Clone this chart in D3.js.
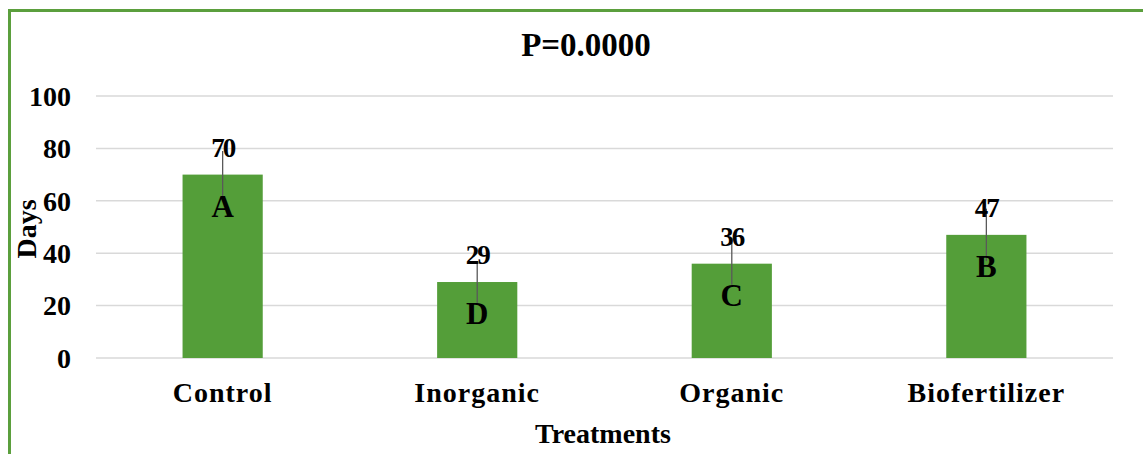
<!DOCTYPE html>
<html>
<head>
<meta charset="utf-8">
<script src="https://cdn.jsdelivr.net/npm/d3@7"></script>
<style>
  body { margin: 0; background: #fff; }
  text { font-family: "Liberation Serif", "Times New Roman", serif; font-weight: bold; fill: #000; }
</style>
</head>
<body>
<svg id="chart" width="1143" height="454"></svg>
<script>
// data
const treatments = ["Control", "Inorganic", "Organic", "Biofertilizer"];
const days = [70, 29, 36, 47];
const errors = [9, 8, 8, 10];
const groups = ["A", "D", "C", "B"];
const yTicks = [0, 20, 40, 60, 80, 100];

const svg = d3.select("#chart");
const plotLeft = 96, plotRight = 1113, plotTop = 96, plotBottom = 358;

// outer frame
svg.append("rect")
  .attr("x", 9.5).attr("y", 10.5)
  .attr("width", 1150).attr("height", 460)
  .attr("fill", "none")
  .attr("stroke", "#5b9f3d")
  .attr("stroke-width", 3);

const x = d3.scaleBand().domain(treatments).range([plotLeft, plotRight]).paddingInner(0.685).paddingOuter(0.34);
const y = d3.scaleLinear().domain([0, 100]).range([plotBottom, plotTop]);

// gridlines
svg.append("g").selectAll("line")
  .data(yTicks)
  .enter().append("line")
  .attr("x1", plotLeft).attr("x2", plotRight)
  .attr("y1", d => y(d)).attr("y2", d => y(d))
  .attr("stroke", "#d9d9d9")
  .attr("stroke-width", 1.5);

// y tick labels
svg.append("g").selectAll("text")
  .data(yTicks)
  .enter().append("text")
  .attr("x", 71)
  .attr("y", d => y(d))
  .attr("dy", "0.35em")
  .attr("text-anchor", "end")
  .style("font-size", "28px")
  .text(d => d);

// bars
svg.append("g").selectAll("rect")
  .data(days)
  .enter().append("rect")
  .attr("x", (d, i) => x(treatments[i]))
  .attr("y", d => y(d))
  .attr("width", x.bandwidth())
  .attr("height", d => y(0) - y(d))
  .attr("fill", "#549e39");

// error bars
svg.append("g").selectAll("line")
  .data(days)
  .enter().append("line")
  .attr("x1", (d, i) => x(treatments[i]) + x.bandwidth() / 2)
  .attr("x2", (d, i) => x(treatments[i]) + x.bandwidth() / 2)
  .attr("y1", (d, i) => y(d + errors[i]))
  .attr("y2", (d, i) => y(d - errors[i]))
  .attr("stroke", "#595959")
  .attr("stroke-width", 1.3);

// value labels
svg.append("g").selectAll("text")
  .data(days)
  .enter().append("text")
  .attr("x", (d, i) => x(treatments[i]) + x.bandwidth() / 2)
  .attr("y", d => y(d) - 18)
  .attr("text-anchor", "middle")
  .style("font-size", "27px")
  .style("letter-spacing", "-2px")
  .text(d => d);

// group letters
svg.append("g").selectAll("text")
  .data(days)
  .enter().append("text")
  .attr("x", (d, i) => x(treatments[i]) + x.bandwidth() / 2)
  .attr("y", d => y(d) + 42)
  .attr("text-anchor", "middle")
  .style("font-size", "31px")
  .text((d, i) => groups[i]);

// x labels
svg.append("g").selectAll("text")
  .data(treatments)
  .enter().append("text")
  .attr("x", d => x(d) + x.bandwidth() / 2)
  .attr("y", 402)
  .attr("text-anchor", "middle")
  .style("font-size", "28px")
  .style("letter-spacing", "1px")
  .text(d => d);

// title
svg.append("text")
  .attr("x", 586).attr("y", 56)
  .attr("text-anchor", "middle")
  .style("font-size", "33px")
  .text("P=0.0000");

// axis titles
svg.append("text")
  .attr("x", 603).attr("y", 443)
  .attr("text-anchor", "middle")
  .style("font-size", "28px")
  .text("Treatments");

svg.append("text")
  .attr("transform", "translate(36,229) rotate(-90)")
  .attr("text-anchor", "middle")
  .style("font-size", "28px")
  .text("Days");
</script>
</body>
</html>
